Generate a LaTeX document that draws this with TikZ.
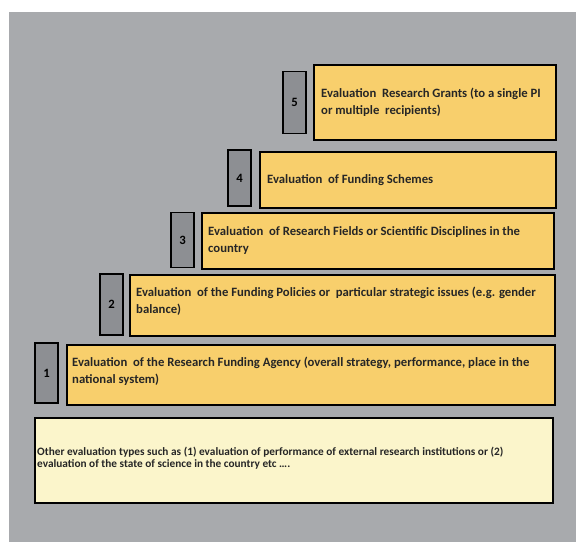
\documentclass[tikz,border=0pt]{standalone}
\usepackage{fontspec}
\setmainfont{Carlito}
\usepackage{tikz}
\usetikzlibrary{calc}
\definecolor{background}{HTML}{A8AAAD}
\definecolor{levelfill}{HTML}{F8CF6C}
\definecolor{otherfill}{HTML}{FBF5CB}
\definecolor{numfill}{HTML}{8D8F93}
\newcommand{\size}{\fontsize{12.7}{17}\selectfont\bfseries}
\newcommand{\smallsize}{\fontsize{11.3}{12.5}\selectfont\bfseries}
\tikzset{
    level/.style = {draw, line width=1.8pt, fill=levelfill, anchor=north west, inner sep=0pt},
    other/.style = {draw, line width=1.8pt, fill=otherfill, anchor=north west, inner sep=0pt},
    num/.style = {draw, line width=1.8pt, fill=numfill, anchor=east, minimum width=23pt, inner sep=0pt, font=\size},
    label/.style = {anchor=west, align=left, inner sep=0pt, text=black!85, font=\size},
}
\begin{document}
\begin{tikzpicture}[x=1pt, y=-1pt]
        \useasboundingbox (0,0) rectangle (577,542);
        \fill[background] (9,12) rectangle (576,542);
        % Levels
        \node (lvl5) [level, minimum width=242pt, minimum height=75pt] at (313,64) {};
        \node (lvl4) [level, minimum width=296pt, minimum height=56pt] at (259,151) {};
        \node (lvl3) [level, minimum width=352pt, minimum height=56pt] at (201,212) {};
        \node (lvl2) [level, minimum width=425pt, minimum height=61pt] at (129,274) {};
        \node (lvl1) [level, minimum width=488pt, minimum height=60pt] at (66,344) {};
        \node (others) [other, minimum width=518pt, minimum height=85pt] at (34,417) {};
        % Numbers
        \node (num5) [num, minimum height=62pt] at ($(lvl5.west) + (-6,0)$) {5};
        \node (num4) [num, minimum height=56pt] at ($(lvl4.west) + (-7,-2)$) {4};
        \node (num3) [num, minimum height=55pt] at ($(lvl3.west) + (-6,-1)$) {3};
        \node (num2) [num, minimum height=61pt] at ($(lvl2.west) + (-5,-1)$) {2};
        \node (num1) [num, minimum height=60pt] at ($(lvl1.west) + (-7,-2)$) {1};
        % Texts
        \node (txt5) [label] at ($(lvl5.west) + (8,0)$) {Evaluation\ \ Research Grants (to a single PI\\or multiple\ \ recipients)};
        \node (txt4) [label] at ($(lvl4.west) + (8,0)$) {Evaluation\ \ of Funding Schemes};
        \node (txt3) [label] at ($(lvl3.west) + (7,0)$) {Evaluation\ \ of Research Fields or Scientific Disciplines in the\\country};
        \node (txt2) [label] at ($(lvl2.west) + (7,-4)$) {Evaluation\ \ of the Funding Policies or\ \ particular strategic issues (e.g. gender\\balance)};
        \node (txt1) [label] at ($(lvl1.west) + (6,-4)$) {Evaluation\ \ of the Research Funding Agency (overall strategy, performance, place in the\\national system)};
        \node (txtother) [label, font=\smallsize] at ($(others.west) + (3,-2)$) {Other evaluation types such as (1) evaluation of performance of external research institutions or (2)\\evaluation of the state of science in the country etc ….};
\end{tikzpicture}
\end{document}
